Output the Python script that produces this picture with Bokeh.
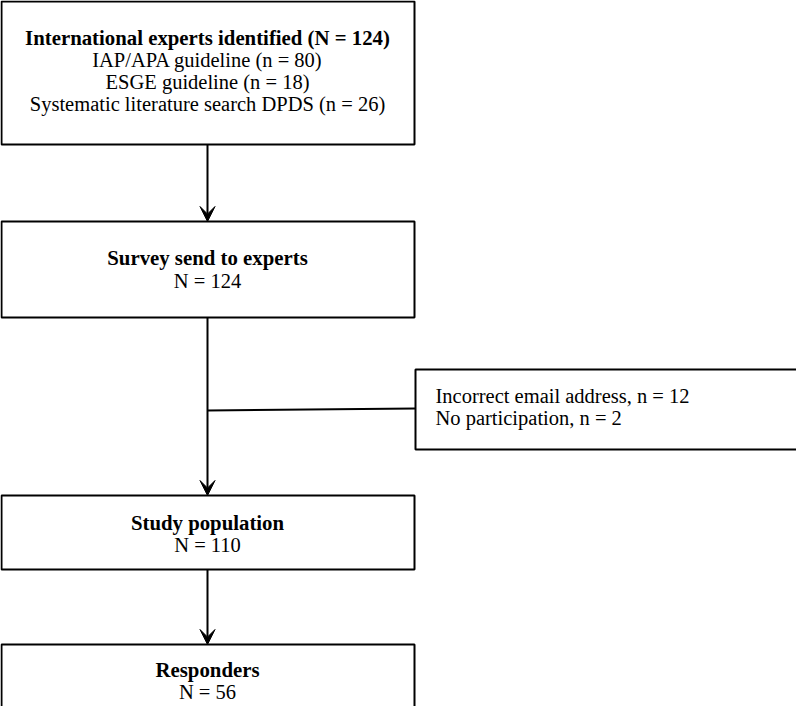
from bokeh.plotting import figure
from bokeh.models import Range1d, Arrow, VeeHead
from bokeh.core.properties import value
from bokeh.embed import file_html
from bokeh.resources import INLINE

# ---- data ----
stage_names = ["International experts identified", "Survey send to experts",
               "Study population", "Responders"]
stage_n = [124, 124, 110, 56]
source_names = ["IAP/APA guideline", "ESGE guideline", "Systematic literature search DPDS"]
source_n = [80, 18, 26]
exclusion_reasons = ["Incorrect email address", "No participation"]
exclusion_n = [12, 2]

# ---- layout (coordinates = window pixels) ----
W, H = 796, 706
FONT = "Liberation Serif"
FS = "20.5px"
FS_B = "20.8px"
cx = 215

p = figure(width=W, height=H, output_backend="svg", toolbar_location=None,
           x_range=Range1d(8, 8 + W), y_range=Range1d(8 + H, 8),
           min_border=0, outline_line_color=None)
p.axis.visible = False
p.grid.visible = False
p.background_fill_color = "white"
p.border_fill_color = "white"

box_left = [9, 9, 423, 9, 9]
box_right = [422, 422, 840, 422, 422]
box_top = [9, 229, 377, 503, 652]
box_bottom = [152, 325, 457, 577, 745]
p.quad(left=box_left, right=box_right, top=box_top, bottom=box_bottom,
       fill_color="white", line_color="black", line_width=2)

# arrows
arrows = [(152, 229), (325, 503), (577, 652)]
for ys, ye in arrows:
    p.add_layout(Arrow(end=VeeHead(size=15, fill_color="black", line_color="black", line_width=1),
                       x_start=cx, y_start=ys, x_end=cx, y_end=ye,
                       line_color="black", line_width=2))
# side connector
p.line(x=[cx, 423], y=[418, 416], line_color="black", line_width=2)

# bold headers
hdr_text = [f"{stage_names[0]} (N = {stage_n[0]})"] + stage_names[1:]
hdr_y = [45, 265, 530, 677]
p.text(x=[cx] * 4, y=hdr_y, text=hdr_text, text_align="center", text_baseline="middle",
       text_font=value(FONT), text_font_size=FS_B, text_font_style="bold", text_color="black")

# regular lines
reg_text = [f"{s} (n = {n})" for s, n in zip(source_names, source_n)] + \
           [f"N = {n}" for n in stage_n[1:]]
reg_y = [67, 89, 111, 288, 552, 699]
p.text(x=[cx] * len(reg_text), y=reg_y, text=reg_text, text_align="center",
       text_baseline="middle", text_font=value(FONT), text_font_size=FS, text_color="black")

# exclusions
exc_text = [f"{r}, n = {n}" for r, n in zip(exclusion_reasons, exclusion_n)]
p.text(x=[443, 443], y=[403, 425], text=exc_text, text_align="left", text_baseline="middle",
       text_font=value(FONT), text_font_size=FS, text_color="black")

open("out.html", "w").write(file_html(p, INLINE))
